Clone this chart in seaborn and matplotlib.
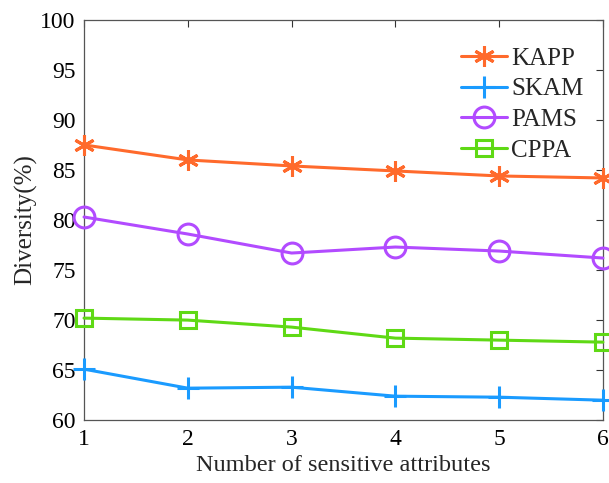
import pandas as pd
import matplotlib
matplotlib.use("Agg")
import matplotlib.pyplot as plt
import seaborn as sns

# Datos
num_atributos = [1, 2, 3, 4, 5, 6]
kapp = [87.5, 86.0, 85.4, 84.9, 84.4, 84.2]
skam = [65.1, 63.2, 63.3, 62.4, 62.3, 62.0]
pams = [80.3, 78.6, 76.7, 77.3, 76.9, 76.2]
cppa = [70.2, 70.0, 69.3, 68.2, 68.0, 67.8]

metodos = ['KAPP', 'SKAM', 'PAMS', 'CPPA']
colores = {'KAPP': '#FF6A2C', 'SKAM': '#1A9BFF', 'PAMS': '#B24BFF', 'CPPA': '#5FD915'}
# asterisco de 6 brazos como en MATLAB
marcadores = {'KAPP': (6, 2, 0), 'SKAM': '+', 'PAMS': 'o', 'CPPA': 's'}
tamanos = {'KAPP': 15, 'SKAM': 16, 'PAMS': 15, 'CPPA': 12}

df = pd.DataFrame({'x': num_atributos, 'KAPP': kapp, 'SKAM': skam, 'PAMS': pams, 'CPPA': cppa})

sns.set_style("white")
plt.rcParams['font.family'] = ['Liberation Serif', 'DejaVu Serif']
plt.rcParams['mathtext.fontset'] = 'stix'

fig = plt.figure(figsize=(6.09, 4.83), dpi=100)
ax = fig.add_axes([0.138, 0.130, 0.852, 0.829])

for m in metodos:
    sns.lineplot(data=df, x='x', y=m, ax=ax, color=colores[m], linewidth=2.2,
                 marker=marcadores[m], markersize=tamanos[m],
                 markerfacecolor='none', markeredgecolor=colores[m],
                 markeredgewidth=2.2, label=m, clip_on=False, zorder=3)

ax.set_xlim(1, 6)
ax.set_ylim(60, 100)
ax.set_xticks(num_atributos)
ax.set_yticks(range(60, 101, 5))
ax.tick_params(direction='in', length=5, width=0.8, colors='#333333',
               labelcolor='black', labelsize=17, top=True, right=True, pad=6)
for s in ax.spines.values():
    s.set_color('#555555')
    s.set_linewidth(0.9)

ax.set_xlabel('Number of sensitive attributes', fontsize=17.5, labelpad=4)
ax.set_ylabel('Diversity(%)', fontsize=18, labelpad=2)

ax.legend(loc='upper right', frameon=False, fontsize=18, handlelength=1.85,
          handletextpad=0.15, labelspacing=0.33, borderaxespad=0.0,
          bbox_to_anchor=(0.982, 0.957))

fig.savefig('out.png', dpi=100)
